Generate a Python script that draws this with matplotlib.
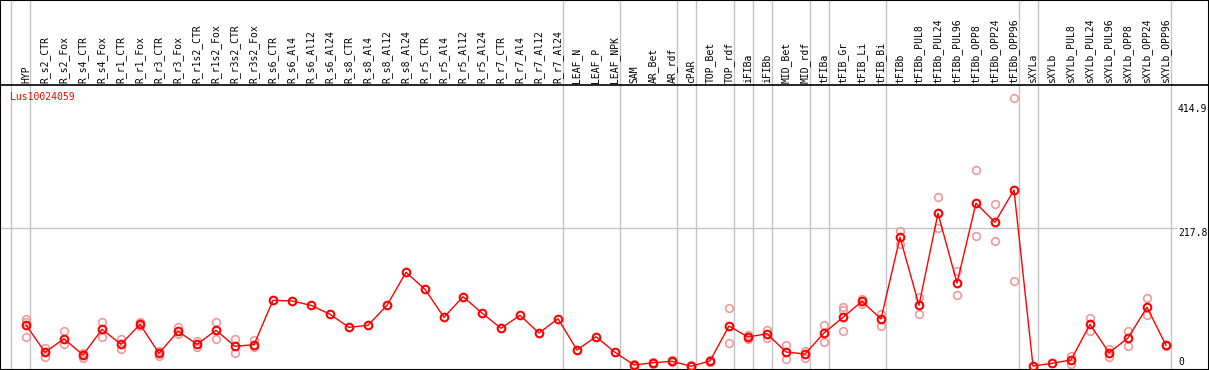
import matplotlib
matplotlib.use("Agg")
import matplotlib.pyplot as plt
import numpy as np

# sample names (x axis)
labels = ['HYP', 'R_s2_CTR', 'R_s2_Fox', 'R_s4_CTR', 'R_s4_Fox', 'R_r1_CTR', 'R_r1_Fox',
          'R_r3_CTR', 'R_r3_Fox', 'R_r1s2_CTR', 'R_r1s2_Fox', 'R_r3s2_CTR', 'R_r3s2_Fox',
          'R_s6_CTR', 'R_s6_Al4', 'R_s6_Al12', 'R_s6_Al24',
          'R_s8_CTR', 'R_s8_Al4', 'R_s8_Al12', 'R_s8_Al24',
          'R_r5_CTR', 'R_r5_Al4', 'R_r5_Al12', 'R_r5_Al24',
          'R_r7_CTR', 'R_r7_Al4', 'R_r7_Al12', 'R_r7_Al24',
          'LEAF_N', 'LEAF_P', 'LEAF_NPK', 'SAM', 'AR_Bet', 'AR_rdf', 'cPAR', 'TOP_Bet', 'TOP_rdf',
          'iFIBa', 'iFIBb', 'MID_Bet', 'MID_rdf', 'tFIBa', 'tFIB_Gr', 'tFIB_Li', 'tFIB_Bi', 'tFIBb',
          'tFIBb_PUL8', 'tFIBb_PUL24', 'tFIBb_PUL96', 'tFIBb_OPP8', 'tFIBb_OPP24', 'tFIBb_OPP96',
          'sXYLa', 'sXYLb', 'sXYLb_PUL8', 'sXYLb_PUL24', 'sXYLb_PUL96', 'sXYLb_OPP8',
          'sXYLb_OPP24', 'sXYLb_OPP96']

# mean expression per sample
means = [65.1, 22.0, 43.4, 17.7, 58.3, 34.6, 66.2, 20.4, 55.1, 34.6, 56.7, 31.4, 34.0,
         104.1, 103.0, 96.2, 82.0, 61.4, 64.6, 96.2, 148.3, 121.5, 77.2, 109.8, 84.0,
         59.9, 80.4, 52.4, 75.0, 25.6, 46.6, 22.0, 1.9, 5.5, 7.7, 0.0, 8.2, 63.5,
         46.1, 51.3, 22.4, 19.3, 52.4, 77.2, 102.5, 74.6, 203.6,
         96.2, 241.5, 131.4, 257.3, 227.3, 278.3,
         0.3, 4.6, 9.8, 66.2, 21.3, 44.5, 93.0, 33.0]

# replicate values per sample (empty where none shown)
reps = [[74.6, 70.3, 46.6], [28.3, 15.0], [55.6, 34.6], [21.3, 12.5], [69.8, 46.6],
        [42.5, 27.6], [70.3, 63.5], [24.0, 16.6], [61.4, 50.4], [39.8, 29.9],
        [69.8, 43.0], [43.4, 20.4], [41.4, 30.8],
        [], [], [], [], [], [], [], [], [], [], [], [], [], [], [], [], [], [], [],
        [1.0, 3.0], [4.0, 7.0], [6.0, 9.5], [0.0, 1.5], [7.0, 9.5], [91.5, 36.6],
        [49.3, 42.5], [57.2, 44.1], [33.5, 10.9], [24.0, 13.4], [64.6, 37.8],
        [94.0, 88.8, 56.1], [105.7, 98.2], [82.5, 63.0], [214.0, 193.0],
        [109.8, 82.0], [266.8, 217.8], [150.8, 112.5], [309.9, 205.2], [255.7, 197.3],
        [423.0, 134.6], [], [], [16.1, 3.5], [76.1, 56.1], [27.6, 14.0], [55.6, 31.9],
        [107.2, 80.4], [32.0, 34.0]]

gene = 'Lus10024059'
y_ticks = [414.9, 217.8]
group_after = [-1, 0, 28, 31, 34, 35, 37, 38, 39, 41, 42, 45, 52, 53, 60]

W, H = 1209, 370
x0, dx = 26, 19          # pixel of first sample, spacing
y0, sy = 366.2, 0.6331   # pixel of zero, pixels per unit


def px_y(p):
    return (y0 - p) / sy


def px_x(p):
    return (p - x0) / dx


fig = plt.figure(figsize=(W / 100, H / 100), dpi=100)
ax = fig.add_axes([0, 0, 1, 1])
ax.set_xlim(px_x(0), px_x(W))
ax.set_ylim(px_y(H), px_y(0))
ax.set_xticks([])
ax.set_yticks([])
for s in ax.spines.values():
    s.set_color('black')
    s.set_linewidth(1.5)

grey = '#c4c4c4'
for g in group_after:
    ax.axvline(g + 4.5 / dx, color=grey, lw=1, zorder=1)
ax.plot([px_x(0), px_x(1176)], [217.8, 217.8], color=grey, lw=1, zorder=1)
ax.axhline(px_y(85), color='black', lw=1.2, zorder=2)

font = dict(family='DejaVu Sans Mono', size=7)
x = np.arange(len(labels))
for i, name in enumerate(labels):
    ax.text(i, px_y(83), name, rotation=90, ha='center', va='bottom', **font)

ax.text(px_x(10), px_y(97), gene, color='red', ha='left', va='center', **font)
for v in y_ticks:
    ax.text(px_x(1178), v, f'{v:.1f}', ha='left', va='top', **font)
ax.text(px_x(1178), px_y(362), '0', ha='left', va='center', **font)

for i, r in enumerate(reps):
    if r:
        ax.plot([i] * len(r), r, 'o', ms=5.5, mfc='none', mec='#f09a9a', mew=1.2, zorder=3)

ax.plot(x, means, '-', color='red', lw=1, zorder=4)
ax.plot(x, means, 'o', ms=5.5, mfc='none', mec='red', mew=1.5, zorder=5)

fig.savefig('out.png', dpi=100)
